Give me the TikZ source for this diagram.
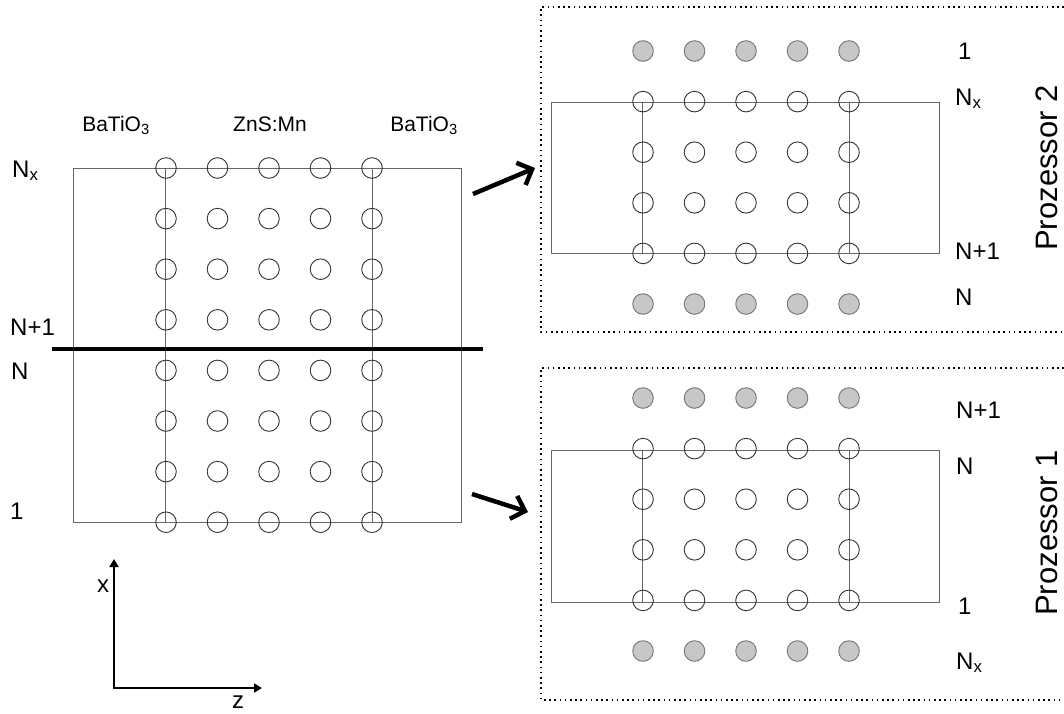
\documentclass[tikz,border=0pt]{standalone}
\usepackage{fontspec}
\setmainfont{Liberation Sans}
\usetikzlibrary{arrows.meta}

\tikzset{
  site/.style={draw=black!80, line width=0.9pt},
  ghost/.style={draw=black!55, fill=black!22, line width=0.9pt},
  cell/.style={draw=black!60, line width=1pt},
  lbl/.style={font=\fontsize{24}{28}\selectfont, inner sep=0pt},
  mat/.style={font=\fontsize{21}{25}\selectfont, inner sep=0pt},
  proc/.style={font=\fontsize{31}{36}\selectfont, rotate=90, inner sep=0pt},
  frame/.style={line width=1.6pt, dash pattern=on 1.6pt off 3.6pt},
  pointer/.style={line width=4.5pt, -{Straight Barb[length=12pt,width=24pt]}},
  axis/.style={line width=2pt, {Triangle[length=8pt,width=9pt]}-{Triangle[length=8pt,width=9pt]}},
}

\begin{document}
\begin{tikzpicture}[x=1pt, y=-1pt]
\useasboundingbox (0,0) rectangle (1064,713);
% whole sample
\draw [cell] (73,168) rectangle (461,522);
\draw [cell] (165,168) -- (165,522);
\draw [cell] (372,168) -- (372,522);
\foreach \i in {0,...,4}
  \foreach \j in {0,...,7}
    \draw [site] (166+51.5*\i,168+50.6*\j) circle [radius=10.3pt];
\draw [line width=4pt] (52,349) -- (483,349);
\node (batl) at (116,131) [mat, anchor=base] {BaTiO\textsubscript{3}};
\node (zns) at (270,131) [mat, anchor=base] {ZnS:Mn};
\node (batr) at (424,131) [mat, anchor=base] {BaTiO\textsubscript{3}};
\node (lNx) at (12,177) [lbl, anchor=base west] {N\textsubscript{x}};
\node (lNp) at (10,335) [lbl, anchor=base west] {N+1};
\node (lN) at (11,379) [lbl, anchor=base west] {N};
\node (l1) at (10,519) [lbl, anchor=base west] {1};
% axes
\coordinate (orig) at (114,688);
\coordinate (xtip) at (114,559);
\coordinate (ztip) at (262,688);
\draw [axis] (xtip) -- (orig) -- (ztip);
\node (xlab) at (103,586) [lbl] {x};
\node (zlab) at (238,702) [lbl] {z};
% processor 2
\draw [frame] (1064,7) -- (541,7) -- (541,332) -- (1064,332);
\draw [cell] (551,102) rectangle (939,253);
\draw [cell] (642,102) -- (642,253);
\draw [cell] (849,102) -- (849,253);
\foreach \i in {0,...,4} {
  \draw [ghost] (643+51.5*\i,51) circle [radius=10.3pt];
  \draw [ghost] (643+51.5*\i,304) circle [radius=10.3pt];
  \foreach \j in {1,...,4}
    \draw [site] (643+51.5*\i,51+50.6*\j) circle [radius=10.3pt];
}
\node (p2l1) at (958,59) [lbl, anchor=base west] {1};
\node (p2Nx) at (955,105) [lbl, anchor=base west] {N\textsubscript{x}};
\node (p2Np) at (955,259) [lbl, anchor=base west] {N+1};
\node (p2N) at (955,305) [lbl, anchor=base west] {N};
\node (p2) at (1047,168) [proc] {Prozessor 2};
% processor 1
\draw [frame] (1064,368) -- (541,368) -- (541,700) -- (1064,700);
\draw [cell] (551,450) rectangle (939,602);
\draw [cell] (642,450) -- (642,602);
\draw [cell] (849,450) -- (849,602);
\foreach \i in {0,...,4} {
  \draw [ghost] (643+51.5*\i,398) circle [radius=10.3pt];
  \draw [ghost] (643+51.5*\i,651) circle [radius=10.3pt];
  \foreach \j in {1,...,4}
    \draw [site] (643+51.5*\i,398+50.6*\j) circle [radius=10.3pt];
}
\node (p1Np) at (956,418) [lbl, anchor=base west] {N+1};
\node (p1N) at (956,474) [lbl, anchor=base west] {N};
\node (p1l1) at (958,614) [lbl, anchor=base west] {1};
\node (p1Nx) at (956,669) [lbl, anchor=base west] {N\textsubscript{x}};
\node (p1) at (1047,533) [proc] {Prozessor 1};
% split arrows
\coordinate (up0) at (473,194);
\coordinate (up1) at (535,168);
\coordinate (dn0) at (472,494);
\coordinate (dn1) at (528,512);
\draw [pointer] (up0) -- (up1);
\draw [pointer] (dn0) -- (dn1);
\end{tikzpicture}
\end{document}
